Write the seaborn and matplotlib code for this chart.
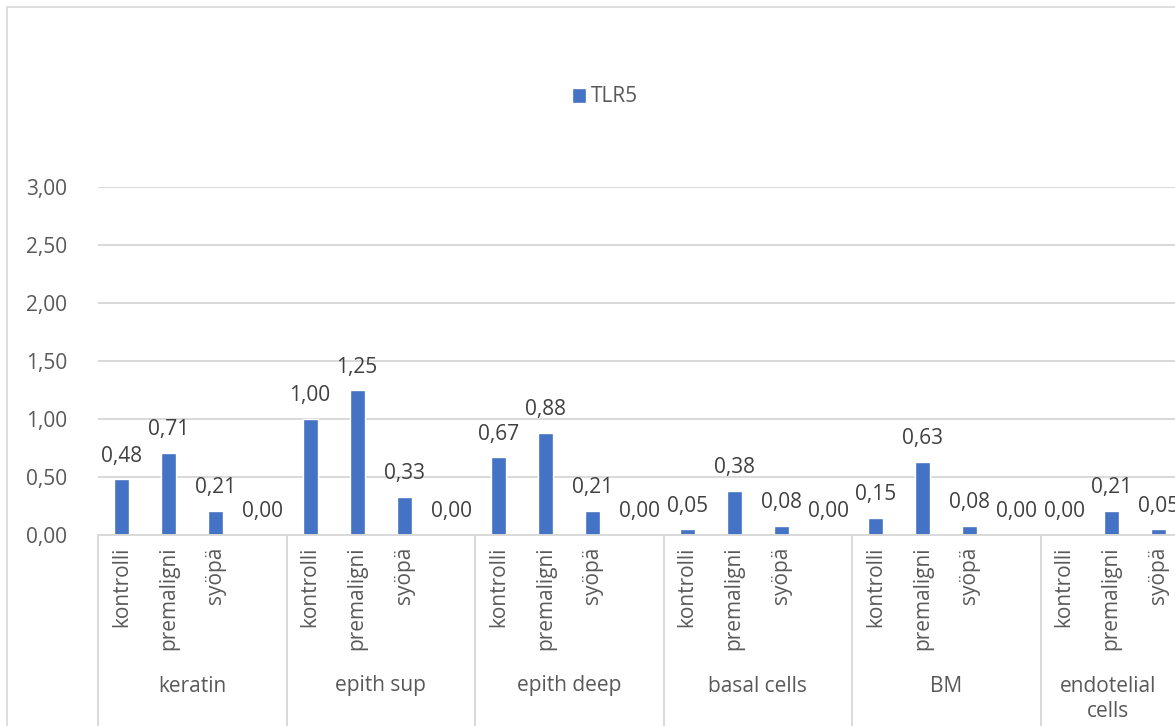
import pandas as pd
import matplotlib.pyplot as plt
import seaborn as sns
from matplotlib.patches import Rectangle

# =========================
# 1. DATA
# =========================
groups = ["keratin", "epith sup", "epith deep", "basal cells", "BM", "endotelial\ncells"]
subgroups = ["kontrolli", "premaligni", "syöpä", ""]

keratin = [0.48, 0.71, 0.21, 0.00]
epith_sup = [1.00, 1.25, 0.33, 0.00]
epith_deep = [0.67, 0.88, 0.21, 0.00]
basal_cells = [0.05, 0.38, 0.08, 0.00]
bm = [0.15, 0.63, 0.08, 0.00]
endotelial = [0.00, 0.21, 0.05, 0.00]

y_ticks = [0.0, 0.5, 1.0, 1.5, 2.0, 2.5, 3.0]
series_name = "TLR5"

all_values = [keratin, epith_sup, epith_deep, basal_cells, bm, endotelial]

rows = []
for g, vals in zip(groups, all_values):
    for s, v in zip(subgroups, vals):
        rows.append({"group": g, "sub": s, "slot": g + "|" + s, "value": v})
df = pd.DataFrame(rows)

# =========================
# 2. STYLE
# =========================
sns.set_style("white")
plt.rcParams["font.family"] = ["Open Sans", "DejaVu Sans"]

BLUE = "#4472C4"
GRID = "#d9d9d9"
TEXT = "#595959"
FS = 15

W, H = 1175, 726
fig = plt.figure(figsize=(W / 100, H / 100), dpi=100)

# plot area in pixels: left 98, y=0 at 535, y=3 at 187, 6 groups * 188.5 px
left_px, zero_px, top_px = 98, 535, 187
group_px = 188.5
ax_w = group_px * len(groups)
ax_h = zero_px - top_px
ax = fig.add_axes([left_px / W, (H - zero_px) / H, ax_w / W, ax_h / H])

# chart area border
fig.patches.append(Rectangle((7 / W, -0.1), 1.2, 1.1 - 7 / H, transform=fig.transFigure,
                             fill=False, edgecolor=GRID, linewidth=1.2))

# =========================
# 3. BARS
# =========================
sns.barplot(data=df, x="slot", y="value", order=list(df["slot"]), color=BLUE,
            width=0.32, label=series_name, ax=ax, saturation=1)

for i, v in enumerate(df["value"]):
    ax.annotate(f"{v:.2f}".replace(".", ","), (i, v), xytext=(0, 9),
                textcoords="offset points", ha="center", va="bottom",
                fontsize=FS, color="#404040")

# =========================
# 4. AXES
# =========================
ax.set_xlim(-0.5, len(df) - 0.5)
ax.set_ylim(0, 3)
ax.set_yticks(y_ticks)
ax.set_yticklabels([f"{t:.2f}".replace(".", ",") for t in y_ticks], fontsize=FS, color=TEXT)
ax.tick_params(axis="y", length=0, pad=22)
ax.set_xticks([])
ax.set_xlabel("")
ax.set_ylabel("")
ax.grid(axis="y", color=GRID, linewidth=1.4)
ax.set_axisbelow(True)
for side in ["top", "right", "left"]:
    ax.spines[side].set_visible(False)
ax.spines["bottom"].set_color(GRID)
ax.spines["bottom"].set_linewidth(1.4)

# multi-level category labels
tr = ax.get_xaxis_transform()
def frac(ypix):
    return (zero_px - ypix) / ax_h

for i, s in enumerate(df["sub"]):
    ax.text(i, frac(547), s, rotation=90, ha="center", va="top", fontsize=FS,
            color=TEXT, transform=tr, clip_on=False)

# x (data) of the figure's right edge: the last group label is centred on its visible part
x_edge = ax.transData.inverted().transform((W, 0))[0]

n_sub = len(subgroups)
for k, g in enumerate(groups):
    lo, hi = k * n_sub - 0.5, (k + 1) * n_sub - 0.5
    center = (lo + min(hi, x_edge)) / 2
    ax.text(center, frac(699 if "\n" in g else 686), g, ha="center", va="center",
            fontsize=FS, color=TEXT, transform=tr, clip_on=False, linespacing=1.3)

for k in range(len(groups) + 1):
    xb = k * n_sub - 0.5
    ax.plot([xb, xb], [0, frac(H + 5)], color=GRID, linewidth=1.4, transform=tr, clip_on=False)

# legend
ax.legend(loc="center", bbox_to_anchor=(605 / W, 1 - 97 / H), bbox_transform=fig.transFigure,
          frameon=False, fontsize=FS, handlelength=0.7, handleheight=0.7,
          handletextpad=0.25, labelcolor=TEXT)

fig.savefig("out.png", dpi=100)
